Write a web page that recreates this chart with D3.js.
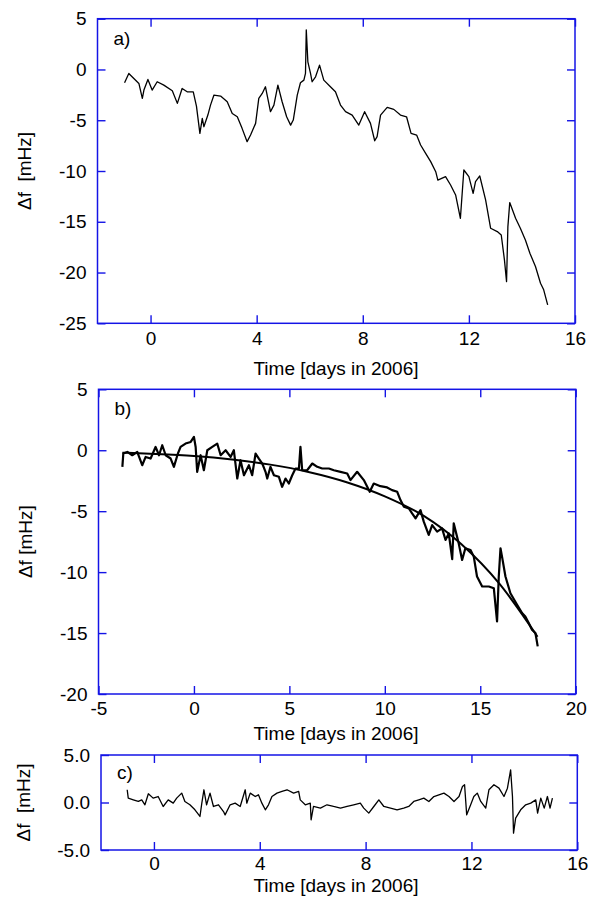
<!DOCTYPE html>
<html>
<head>
<meta charset="utf-8">
<script src="https://cdn.jsdelivr.net/npm/d3@7"></script>
<style>
    body { margin: 0; background: #fff; }
    svg text { font-family: "Liberation Sans", Arial, Helvetica, sans-serif; font-size: 19px; fill: #000; }
</style>
</head>
<body>
<div class="myChart"></div>
<script>
// ---- data: [time in days, frequency shift in mHz] ----
const seriesA = [
    [-0.98,-1.31],[-0.82,-0.39],[-0.63,-0.89],[-0.44,-1.38],[-0.31,-2.85],[-0.25,-2.03],[-0.10,-0.98],[0.06,-2.03],
    [0.25,-1.21],[0.50,-1.54],[0.82,-2.10],[1.01,-3.34],[1.19,-1.87],[1.38,-2.20],[1.61,-2.20],[1.73,-3.61],
    [1.86,-6.30],[1.95,-4.82],[2.01,-5.64],[2.16,-4.49],[2.26,-3.51],[2.39,-2.52],[2.64,-2.62],[2.89,-3.18],
    [3.08,-4.33],[3.27,-4.66],[3.45,-5.80],[3.64,-7.11],[3.77,-6.46],[3.96,-5.31],[4.08,-2.85],[4.21,-2.36],
    [4.33,-1.70],[4.52,-4.16],[4.65,-3.51],[4.80,-1.54],[4.96,-3.18],[5.13,-4.66],[5.28,-5.48],[5.38,-4.98],
    [5.53,-2.52],[5.65,-1.31],[5.78,-1.05],[5.84,-0.39],[5.87,3.90],[5.93,0.75],[6.03,-0.39],[6.09,-1.21],
    [6.22,-0.72],[6.37,0.43],[6.53,-1.05],[6.78,-1.70],[6.97,-2.20],[7.16,-3.51],[7.35,-4.16],[7.60,-4.49],
    [7.85,-5.48],[8.07,-4.16],[8.29,-5.31],[8.45,-7.02],[8.54,-6.62],[8.67,-4.49],[8.92,-3.74],[9.17,-3.93],
    [9.42,-4.49],[9.65,-4.66],[9.82,-6.30],[10.03,-6.46],[10.18,-7.44],[10.37,-8.26],[10.56,-9.08],[10.75,-10.07],
    [10.83,-10.89],[11.12,-10.56],[11.31,-11.38],[11.50,-12.36],[11.68,-14.66],[11.81,-9.90],[12.00,-10.56],[12.16,-12.20],
    [12.25,-11.05],[12.41,-10.49],[12.63,-12.85],[12.82,-15.64],[13.07,-15.97],[13.22,-16.30],[13.34,-18.75],[13.42,-20.89],
    [13.47,-15.48],[13.54,-13.11],[13.76,-14.66],[13.94,-15.64],[14.13,-16.79],[14.30,-18.10],[14.51,-19.41],[14.70,-21.05],
    [14.82,-21.70],[14.97,-23.18]
]

const seriesB = [
    [-3.75,-1.36],[-3.70,-0.27],[-3.49,-0.14],[-3.23,-0.41],[-2.97,-0.14],[-2.71,-1.23],[-2.53,-0.55],[-2.27,-0.68],
    [-2.01,0.27],[-1.83,-0.41],[-1.66,0.41],[-1.48,-0.41],[-1.22,-0.68],[-1.05,-1.36],[-0.84,-0.27],[-0.70,0.27],
    [-0.44,0.55],[-0.17,0.68],[0.00,1.09],[0.09,0.27],[0.17,-1.77],[0.35,-0.41],[0.52,-1.64],[0.70,0.00],
    [0.96,0.27],[1.22,0.55],[1.40,-0.41],[1.66,0.00],[1.92,-0.55],[2.09,0.00],[2.27,-2.32],[2.44,-0.82],
    [2.62,-2.05],[2.88,-1.23],[3.05,-2.05],[3.23,-0.27],[3.40,-0.68],[3.58,-1.09],[3.75,-1.77],[3.84,-2.32],
    [4.01,-1.36],[4.19,-2.05],[4.45,-2.18],[4.62,-3.00],[4.80,-2.32],[4.97,-2.73],[5.15,-2.05],[5.32,-1.50],
    [5.50,-1.50],[5.58,0.27],[5.67,-1.64],[5.93,-1.64],[6.20,-1.09],[6.46,-1.36],[6.72,-1.50],[7.07,-1.50],
    [7.33,-1.64],[7.68,-1.77],[8.03,-1.91],[8.20,-2.45],[8.55,-1.77],[8.90,-2.45],[9.21,-3.41],[9.42,-2.73],
    [9.77,-2.95],[10.12,-3.05],[10.38,-3.27],[10.65,-3.41],[10.82,-4.09],[11.00,-4.64],[11.26,-4.77],[11.43,-5.18],
    [11.61,-5.59],[11.87,-4.91],[12.04,-5.86],[12.30,-6.95],[12.48,-6.14],[12.74,-6.68],[13.00,-6.41],[13.18,-7.36],
    [13.35,-6.82],[13.53,-8.94],[13.61,-6.00],[13.87,-7.64],[14.05,-9.00],[14.22,-8.04],[14.49,-8.18],[14.66,-8.73],
    [14.83,-10.36],[15.10,-11.18],[15.45,-11.18],[15.71,-11.32],[15.88,-14.04],[15.97,-10.36],[16.06,-8.04],[16.14,-8.73],
    [16.32,-10.36],[16.58,-11.73],[16.93,-12.68],[17.19,-13.36],[17.36,-13.64],[17.54,-14.18],[17.71,-14.73],[17.89,-15.00],
    [18.01,-16.09]
]

const fitB = [
    [-3.75,-0.20],[-2,-0.30],[0,-0.47],[2,-0.76],[4,-1.18],[6,-1.78],[8,-2.62],[10,-3.78],
    [12,-5.35],[14,-7.70],[16,-10.95],[18,-15.30]
]

const seriesC = [
    [-1.01,1.34],[-0.97,0.46],[-0.78,0.28],[-0.59,0.11],[-0.46,0.28],[-0.34,-0.24],[-0.21,0.92],[-0.03,0.46],
    [0.16,0.63],[0.35,-0.42],[0.54,0.28],[0.73,-0.07],[0.86,0.46],[1.05,0.99],[1.17,0.11],[1.36,-0.24],
    [1.55,-0.77],[1.74,-1.47],[1.81,-0.07],[1.89,1.34],[1.99,-0.24],[2.12,0.99],[2.25,-0.42],[2.44,-0.24],
    [2.63,-0.95],[2.69,-1.30],[2.88,-0.24],[3.07,-0.07],[3.26,-0.42],[3.45,1.34],[3.51,-0.07],[3.64,0.99],
    [3.83,0.63],[3.95,0.81],[4.08,-0.07],[4.21,-0.77],[4.33,-0.24],[4.46,0.63],[4.65,0.99],[4.84,1.16],
    [5.03,1.34],[5.28,0.99],[5.47,1.16],[5.53,0.28],[5.72,-0.24],[5.91,-0.07],[5.94,-1.82],[6.03,-0.42],
    [6.29,-0.59],[6.54,-0.24],[6.79,-0.42],[7.05,-0.59],[7.30,-0.42],[7.55,-0.24],[7.80,-0.07],[7.93,-0.59],
    [8.12,-1.12],[8.31,-0.42],[8.50,0.28],[8.69,-0.42],[8.94,-0.59],[9.19,-0.77],[9.44,-0.59],[9.63,-0.42],
    [9.82,0.11],[10.01,0.28],[10.20,0.46],[10.39,0.11],[10.58,0.63],[10.77,0.81],[10.96,0.99],[11.15,0.63],
    [11.34,0.11],[11.53,0.63],[11.66,1.69],[11.74,1.87],[11.82,-1.30],[11.97,-0.24],[12.09,0.63],[12.22,0.99],
    [12.35,0.11],[12.54,-0.59],[12.66,1.34],[12.85,1.87],[13.04,1.51],[13.23,0.63],[13.36,1.51],[13.48,3.43],
    [13.55,0.63],[13.59,-3.23],[13.67,-1.65],[13.86,-0.77],[14.05,-0.24],[14.24,-0.07],[14.43,0.28],[14.50,-1.12],
    [14.62,0.46],[14.75,-0.59],[14.87,0.63],[14.97,-0.59],[15.06,0.46]
]

// tick values
const ticksXa = [0, 4, 8, 12, 16]
const ticksYa = [5, 0, -5, -10, -15, -20, -25]
const ticksXb = [-5, 0, 5, 10, 15, 20]
const ticksYb = [5, 0, -5, -10, -15, -20]
const ticksXc = [0, 4, 8, 12, 16]
const ticksYc = [5, 0, -5]

var width = 591
var height = 901
var frameColor = '#1414e6'

var svg = d3
    .select('.myChart')
    .append('svg')
    .attr('width', width)
    .attr('height', height)
    .style('background-color', '#fff')

function renderPanel(p) {
    var xScale = d3.scaleLinear().domain(p.xDomain).range([p.left, p.right])
    var yScale = d3.scaleLinear().domain(p.yDomain).range([p.bottom, p.top])
    var g = svg.append('g')

    // axes with inward ticks on all four sides
    var bottomAxis = g.append('g').attr('transform', `translate(0, ${p.bottom})`)
        .call(d3.axisBottom(xScale).tickValues(p.xTicks).tickSize(-8).tickPadding(p.xPad).tickFormat((d) => d))
    g.append('g').attr('transform', `translate(0, ${p.top})`)
        .call(d3.axisTop(xScale).tickValues(p.xTicks).tickSize(-8).tickFormat(''))
    g.append('g').attr('transform', `translate(${p.left}, 0)`)
        .call(d3.axisLeft(yScale).tickValues(p.yTicks).tickSize(-8).tickPadding(11).tickFormat(p.yFormat))
    g.append('g').attr('transform', `translate(${p.right}, 0)`)
        .call(d3.axisRight(yScale).tickValues(p.yTicks).tickSize(-8).tickFormat(''))

    g.selectAll('.domain').remove()
    g.selectAll('.tick line').attr('stroke', frameColor).attr('stroke-width', 1.4)

    g.append('rect')
        .attr('x', p.left).attr('y', p.top)
        .attr('width', p.right - p.left).attr('height', p.bottom - p.top)
        .attr('fill', 'none').attr('stroke', frameColor).attr('stroke-width', 1.5)

    var line = d3.line().x((d) => xScale(d[0])).y((d) => yScale(d[1]))
    p.lines.forEach((l) => {
        g.append('path')
            .datum(l.data)
            .attr('fill', 'none')
            .attr('stroke', '#000')
            .attr('stroke-width', l.width)
            .attr('stroke-linejoin', 'round')
            .attr('d', l.curve ? line.curve(l.curve)(l.data) : line.curve(d3.curveLinear)(l.data))
    })

    g.append('text')
        .attr('x', p.left + 16).attr('y', p.labelY)
        .text(p.label)

    g.append('text')
        .attr('x', 336).attr('y', p.bottom + p.titleDy)
        .attr('text-anchor', 'middle')
        .text('Time [days in 2006]')

    g.append('text')
        .attr('transform', `translate(${p.yTitleX}, ${(p.top + p.bottom) / 2}) rotate(-90)`)
        .attr('text-anchor', 'middle')
        .style('white-space', 'pre')
        .text(p.yTitle)
}

renderPanel({
    left: 97.5, right: 575, top: 18.7, bottom: 323.3,
    xDomain: [-2, 16], yDomain: [-25, 5],
    xTicks: ticksXa, yTicks: ticksYa, xPad: 8, yFormat: (d) => d,
    lines: [{ data: seriesA, width: 1.3 }],
    label: 'a)', labelY: 45, titleDy: 51.5,
    yTitle: 'Δf  [mHz]', yTitleX: 31
})

renderPanel({
    left: 98.5, right: 575.7, top: 389.3, bottom: 694,
    xDomain: [-5, 20], yDomain: [-20, 5],
    xTicks: ticksXb, yTicks: ticksYb, xPad: 8, yFormat: (d) => d,
    lines: [{ data: seriesB, width: 2.2 }, { data: fitB, width: 2, curve: d3.curveMonotoneX }],
    label: 'b)', labelY: 415, titleDy: 46,
    yTitle: 'Δf [mHz]', yTitleX: 32
})

renderPanel({
    left: 101, right: 577.3, top: 755, bottom: 850,
    xDomain: [-2, 16], yDomain: [-5, 5],
    xTicks: ticksXc, yTicks: ticksYc, xPad: 6.5, yFormat: (d) => d.toFixed(1),
    lines: [{ data: seriesC, width: 1.3 }],
    label: 'c)', labelY: 779, titleDy: 42,
    yTitle: 'Δf  [mHz]', yTitleX: 30
})
</script>
</body>
</html>
